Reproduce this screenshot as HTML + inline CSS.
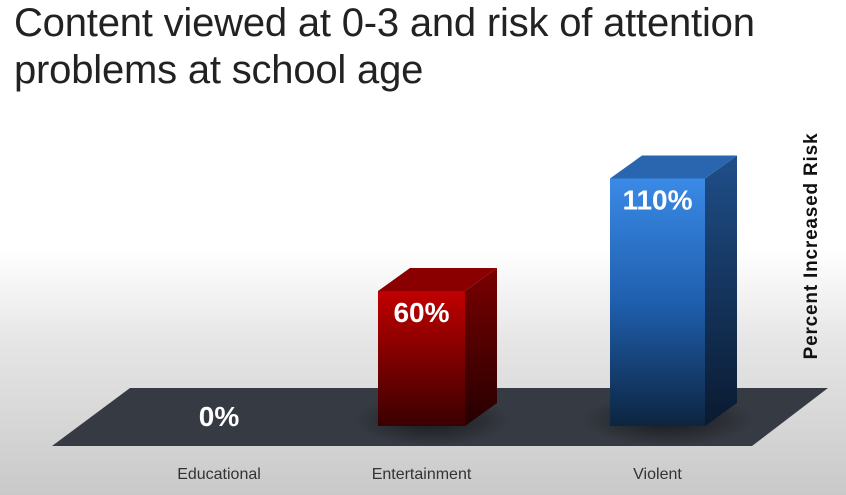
<!DOCTYPE html>
<html><head><meta charset="utf-8"><style>
html,body{margin:0;padding:0}
body{width:846px;height:495px;overflow:hidden;font-family:"Liberation Sans",sans-serif;
background:linear-gradient(to bottom,#fff 0px,#fff 250px,#e6e6e6 340px,#c9c9c9 495px);position:relative}
.title{position:absolute;left:14px;top:0px;font-size:40px;line-height:47px;color:#222;letter-spacing:-0.2px}
</style></head><body>
<div class="title">Content viewed at 0-3 and risk of attention<br>problems at school age</div>
<svg id="chart" width="846" height="495" style="position:absolute;left:0;top:0">
<defs>
<linearGradient id="gRed" x1="0" y1="0" x2="0" y2="1"><stop offset="0" stop-color="#c00000"/><stop offset="1" stop-color="#3a0000"/></linearGradient>
<linearGradient id="gRedS" x1="0" y1="0" x2="0" y2="1"><stop offset="0" stop-color="#7a0000"/><stop offset="1" stop-color="#250000"/></linearGradient>
<linearGradient id="gBlue" x1="0" y1="0" x2="0" y2="1"><stop offset="0" stop-color="#3a8ae6"/><stop offset="0.5" stop-color="#1f5fae"/><stop offset="1" stop-color="#0c2540"/></linearGradient>
<linearGradient id="gBlueS" x1="0" y1="0" x2="0" y2="1"><stop offset="0" stop-color="#1f4f8a"/><stop offset="1" stop-color="#0a1a30"/></linearGradient>
<radialGradient id="shadow"><stop offset="0" stop-color="#000" stop-opacity="0.55"/><stop offset="1" stop-color="#000" stop-opacity="0"/></radialGradient>
</defs>
<polygon points="130,388 828,388 752,446 52,446" fill="#363a42"/>
<g id="bars"></g>
<text x="817" y="246" transform="rotate(-90 817 246)" text-anchor="middle" font-size="19" font-weight="bold" letter-spacing="0.8" fill="#111">Percent Increased Risk</text>
</svg>
<script>
const categories=["Educational","Entertainment","Violent"];
const values=[0,60,110];
const valueLabels=["0%","60%","110%"];
const baseY=426, scale=2.25;
const xLeft=[175,378,610], barW=[88,87,95], depthX=32, depthY=23;
function y(v){return baseY-v*scale;}
const fills=[null,["url(#gRed)","url(#gRedS)","#8a0000"],["url(#gBlue)","url(#gBlueS)","#2a66b0"]];
const g=document.getElementById('bars');
const NS="http://www.w3.org/2000/svg";
categories.forEach((c,i)=>{
  const x=xLeft[i],w=barW[i],top=y(values[i]);
  if(values[i]>0){
    const sh=document.createElementNS(NS,'ellipse');
    sh.setAttribute('cx',x+w/2+10);sh.setAttribute('cy',baseY-6);sh.setAttribute('rx',w*0.9);sh.setAttribute('ry',26);sh.setAttribute('fill','url(#shadow)');
    
    
    g.appendChild(sh);
    const side=document.createElementNS(NS,'polygon');
    side.setAttribute('points',`${x+w},${top} ${x+w+depthX},${top-depthY} ${x+w+depthX},${baseY-depthY} ${x+w},${baseY}`);
    side.setAttribute('fill',fills[i][1]);
    
    
    g.appendChild(side);
    const tp=document.createElementNS(NS,'polygon');
    tp.setAttribute('points',`${x},${top} ${x+depthX},${top-depthY} ${x+w+depthX},${top-depthY} ${x+w},${top}`);
    tp.setAttribute('fill',fills[i][2]);
    
    
    g.appendChild(tp);
    const r=document.createElementNS(NS,'rect');
    r.setAttribute('x',x);r.setAttribute('y',top);r.setAttribute('width',w);r.setAttribute('height',baseY-top);r.setAttribute('fill',fills[i][0]);
    
    
    g.appendChild(r);
  }
  const vl=document.createElementNS(NS,'text');
  vl.setAttribute('x',x+w/2);vl.setAttribute('y',values[i]>0?top+31:baseY);
  vl.setAttribute('text-anchor','middle');vl.setAttribute('font-size','28');vl.setAttribute('font-weight','bold');vl.setAttribute('fill','#fff');
  vl.textContent=valueLabels[i];
  
  
  g.appendChild(vl);
  const cl=document.createElementNS(NS,'text');
  cl.setAttribute('x',x+w/2);cl.setAttribute('y',479);
  cl.setAttribute('text-anchor','middle');cl.setAttribute('font-size','16');cl.setAttribute('fill','#333');
  cl.textContent=c;
  
  
  g.appendChild(cl);
});
</script>
</body></html>
